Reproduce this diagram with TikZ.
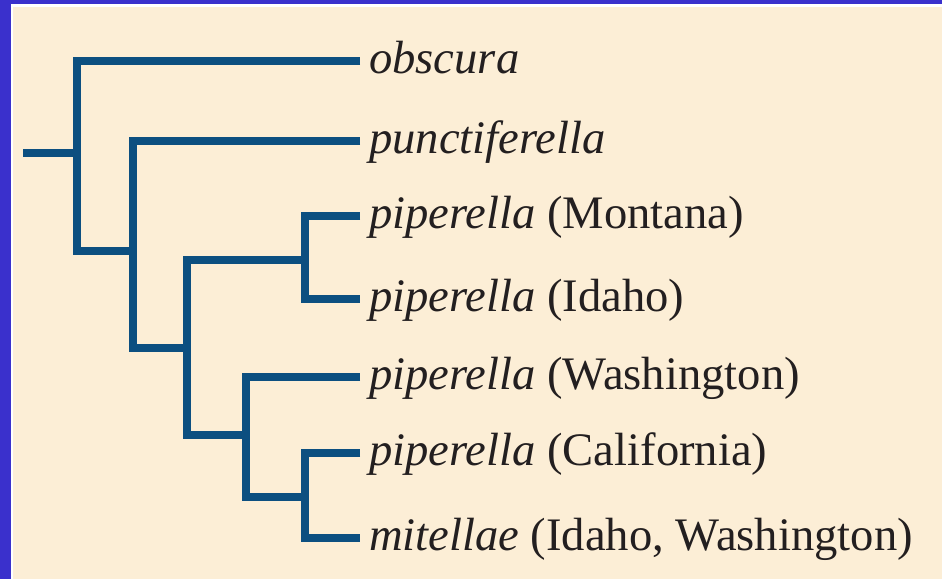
\documentclass[tikz,border=0pt]{standalone}
\usepackage{fontspec}
\setmainfont{Liberation Serif}
\usepackage{tikz}
\usetikzlibrary{positioning}
\definecolor{frameBlue}{HTML}{3A30CC}
\definecolor{paperCream}{HTML}{FCEED6}
\definecolor{branchBlue}{HTML}{0C4F80}
\definecolor{inkDark}{HTML}{231F20}

\begin{document}
\begin{tikzpicture}[x=1pt,y=-1pt,
    branch/.style={branchBlue, line width=8pt, line cap=butt, line join=miter},
    taxon/.style={anchor=west, inner xsep=9pt, inner ysep=0pt, text height=24pt, text depth=0pt,
      font=\fontsize{46.6}{50}\selectfont, text=inkDark}]
  \useasboundingbox (0,0) rectangle (942,579);
  \fill[frameBlue] (0,0) rectangle (942,579);
  \fill[white] (11,4) rectangle (942,579);
  \fill[paperCream] (13,7) rectangle (942,579);

  \node[taxon] (obscura) at (360,61) {\itshape obscura};
  \node[taxon] (punct) at (360,141) {\itshape punctiferella};
  \node[taxon] (montana) at (360,216) {\textit{piperella} (Montana)};
  \node[taxon] (idaho) at (360,299) {\textit{piperella} (Idaho)};
  \node[taxon] (washington) at (360,377) {\textit{piperella} (Washington)};
  \node[taxon] (california) at (360,453) {\textit{piperella} (California)};
  \node[taxon] (mitellae) at (360,538) {\textit{mitellae} (Idaho, Washington)};

  \coordinate (root) at (23,153);
  \coordinate (n1) at (77,153);
  \coordinate (n2) at (133,251);
  \coordinate (n3) at (187,348);
  \coordinate (n4) at (305,260);
  \coordinate (n5) at (246,435);
  \coordinate (n6) at (305,497);

  \draw[branch] (root) -- (n1);
  \draw[branch] (obscura.west) -| (n1) |- (n2);
  \draw[branch] (punct.west) -| (n2) |- (n3);
  \draw[branch] (montana.west) -| (n4) |- (idaho.west);
  \draw[branch] (n4) -| (n3) |- (n5);
  \draw[branch] (washington.west) -| (n5) |- (n6);
  \draw[branch] (california.west) -| (n6) |- (mitellae.west);
\end{tikzpicture}
\end{document}
